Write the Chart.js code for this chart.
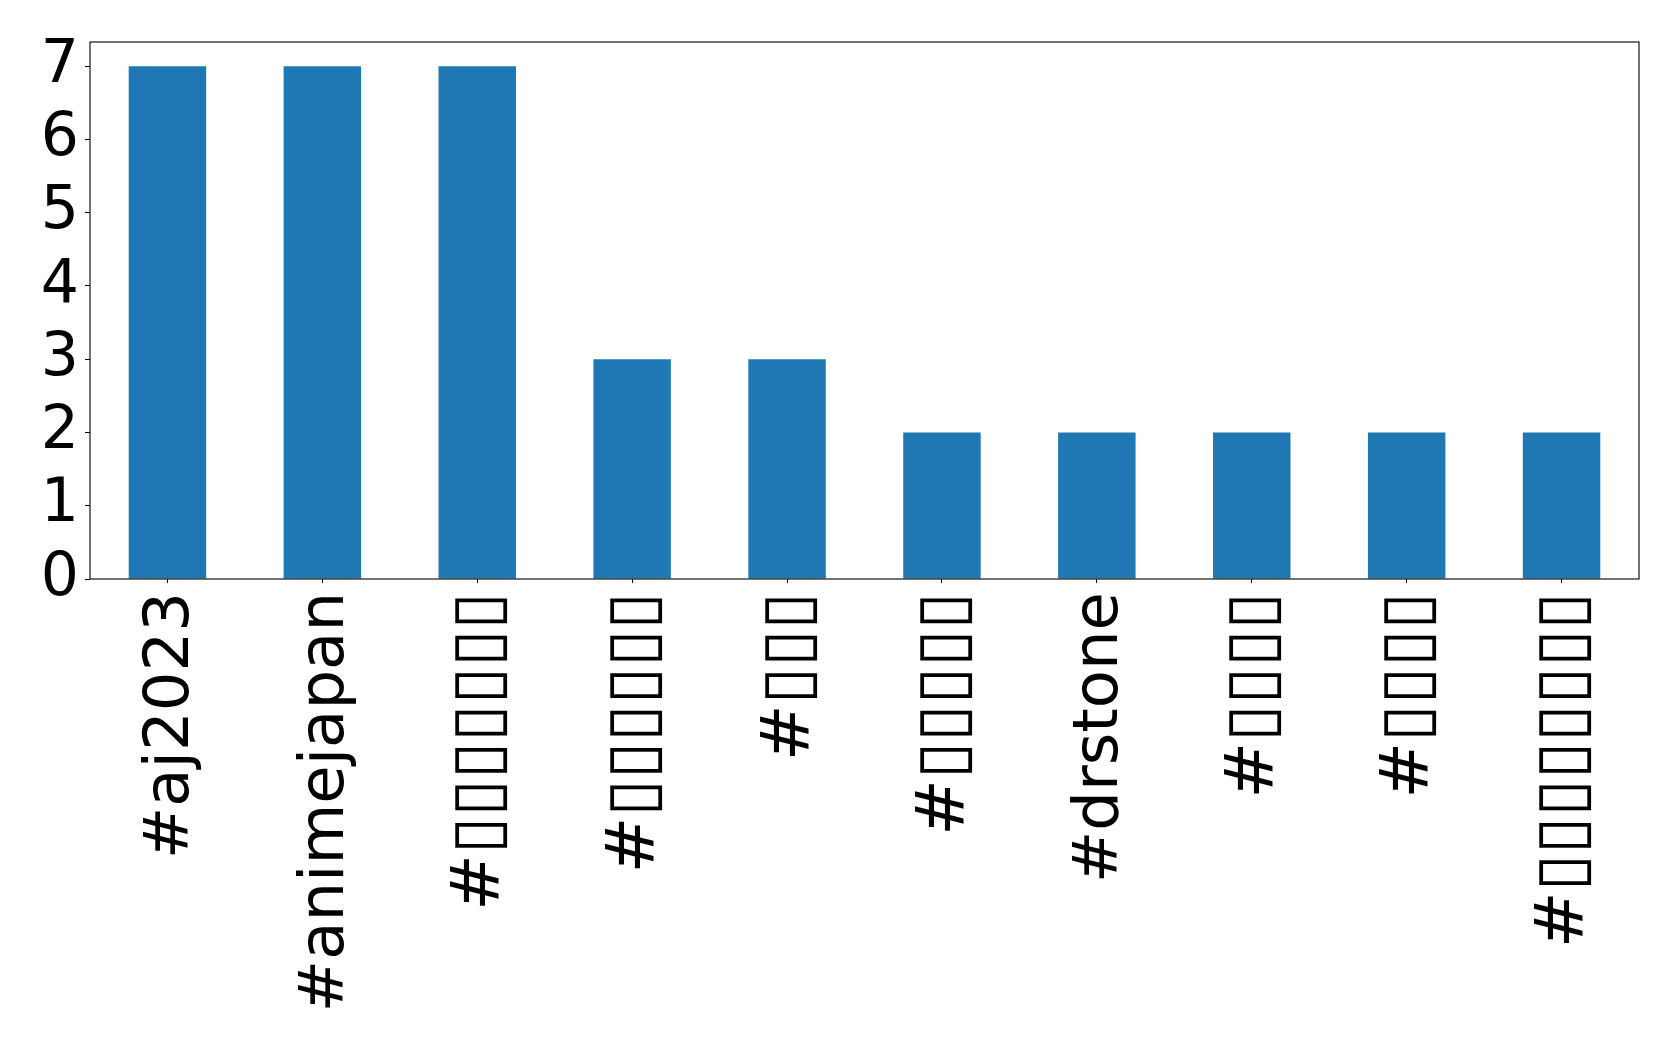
<!DOCTYPE html>
<html>
<head>
<meta charset="utf-8">
<script src="https://cdn.jsdelivr.net/npm/chart.js@4.4.0/dist/chart.umd.min.js"></script>
<style>
    html, body { margin: 0; padding: 0; background: #fff; }
    #wrap { width: 1679px; height: 1048px; }
</style>
</head>
<body>
<div id="wrap"><canvas id="myChart" width="1679" height="1048"></canvas></div>
<script>
// hashtags (the Japanese ones show up as missing-glyph boxes in the source)
const labels = ['#aj2023', '#animejapan', '#▯▯▯▯▯▯▯', '#▯▯▯▯▯▯', '#▯▯▯', '#▯▯▯▯▯', '#drstone', '#▯▯▯▯', '#▯▯▯▯', '#▯▯▯▯▯▯▯▯']
const counts = [7, 7, 7, 3, 3, 2, 2, 2, 2, 2]
const yTicks = [0, 1, 2, 3, 4, 5, 6, 7]

const frame = {
    id: 'frame',
    afterDraw(chart) {
        const { ctx, chartArea: a } = chart
        ctx.save()
        ctx.strokeStyle = '#000'
        ctx.lineWidth = 1.1
        ctx.strokeRect(a.left, a.top, a.right - a.left, a.bottom - a.top)
        ctx.restore()
    }
}

const ctx = document.getElementById('myChart').getContext('2d')

// the boxes are a bit larger than the latin glyphs in the picture
const xFont = (c) => {
    const l = labels[c.index] || ''
    return { family: 'DejaVu Sans', size: l.includes('▯') ? 68 : 62.5 }
}

const config = {
    type: 'bar',
    data: {
        labels: labels,
        datasets: [{
            data: counts,
            backgroundColor: '#1f77b4',
            borderWidth: 0,
            barPercentage: 0.5,
            categoryPercentage: 1.0
        }]
    },
    options: {
        responsive: false,
        animation: false,
        layout: { padding: { top: 40, right: 40, left: 0, bottom: 0 } },
        plugins: {
            legend: { display: false },
            tooltip: { enabled: false }
        },
        scales: {
            x: {
                offset: true,
                afterFit: (s) => { s.height = 1048 - 579 },
                grid: {
                    display: true,
                    drawOnChartArea: false,
                    tickLength: 4,
                    color: '#000',
                    offset: false
                },
                border: { display: false },
                ticks: {
                    color: '#000',
                    font: xFont,
                    minRotation: 90,
                    maxRotation: 90,
                    autoSkip: false,
                    padding: 9,
                    labelOffset: 4
                }
            },
            y: {
                min: 0,
                max: 7.33,
                afterFit: (s) => { s.width = 90 },
                afterBuildTicks: (s) => { s.ticks = yTicks.map(v => ({ value: v })) },
                grid: {
                    display: true,
                    drawOnChartArea: false,
                    tickLength: 5,
                    color: '#000'
                },
                border: { display: false },
                ticks: {
                    color: '#000',
                    font: { family: 'DejaVu Sans', size: 60 },
                    padding: 6
                }
            }
        }
    },
    plugins: [frame]
}

new Chart(ctx, config)
</script>
</body>
</html>
